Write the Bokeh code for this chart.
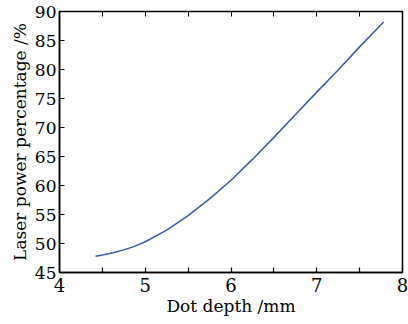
from bokeh.plotting import figure
from bokeh.models import FixedTicker, LinearAxis, Range1d
from bokeh.embed import file_html
from bokeh.resources import INLINE

depth = [4.42, 4.5, 4.625, 4.75, 4.875, 5.0, 5.25, 5.5, 5.75, 6.0, 6.25, 6.5, 6.75, 7.0, 7.25, 7.5, 7.78]
power = [47.8, 48.0, 48.4, 48.9, 49.5, 50.3, 52.3, 54.8, 57.7, 60.9, 64.5, 68.3, 72.2, 76.1, 79.9, 83.9, 88.2]

x_major = [4, 5, 6, 7, 8]
x_minor = [4.5, 5.5, 6.5, 7.5]
y_ticks = [45, 50, 55, 60, 65, 70, 75, 80, 85, 90]

FONT = "DejaVu Serif"

p = figure(width=408, height=324, output_backend="svg", toolbar_location=None,
           x_range=Range1d(4, 8), y_range=Range1d(45, 90),
           min_border_left=59, min_border_right=6, min_border_top=11, min_border_bottom=52)
p.grid.visible = False
p.outline_line_color = "black"
p.outline_line_width = 1.5
p.background_fill_color = "white"
p.border_fill_color = "white"

p.line(depth, power, line_color="#3a5aa8", line_width=1.5)

xa = p.xaxis[0]
xa.ticker = FixedTicker(ticks=x_major, minor_ticks=x_minor)
xa.axis_label = "Dot depth /mm"
ya = p.yaxis[0]
ya.ticker = FixedTicker(ticks=y_ticks, minor_ticks=[])
ya.axis_label = "Laser power percentage /%"

for ax in (xa, ya):
    ax.axis_line_color = "black"
    ax.axis_line_width = 1.5
    ax.major_tick_in = 5
    ax.major_tick_out = 0
    ax.minor_tick_in = 5
    ax.minor_tick_out = 0
    ax.major_tick_line_color = "black"
    ax.minor_tick_line_color = "black"
    ax.major_tick_line_width = 1.2
    ax.minor_tick_line_width = 1.2
    ax.major_label_text_font = FONT
    ax.major_label_text_font_size = "18px"
    ax.major_label_text_color = "black"
    ax.axis_label_text_font = FONT
    ax.axis_label_text_font_size = "17px"
    ax.axis_label_text_font_style = "normal"
    ax.axis_label_text_color = "black"

xa.major_label_standoff = 5
xa.axis_label_standoff = 1
ya.major_label_standoff = 3
ya.axis_label_standoff = 2
ya.major_label_text_font_size = "17px"

top = LinearAxis(ticker=FixedTicker(ticks=x_major, minor_ticks=x_minor))
top.major_tick_in = 5
top.major_tick_out = 0
top.minor_tick_in = 5
top.minor_tick_out = 0
top.major_label_overrides = {t: "" for t in x_major}
top.major_label_standoff = 0
top.axis_line_color = None
top.major_tick_line_color = "black"
top.minor_tick_line_color = "black"
p.add_layout(top, "above")

open("out.html", "w").write(file_html(p, INLINE))
